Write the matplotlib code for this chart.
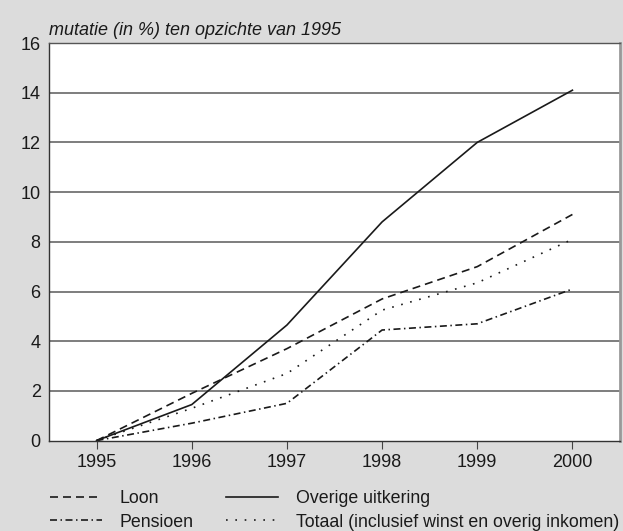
import matplotlib
matplotlib.use("Agg")
import matplotlib.pyplot as plt

years = [1995, 1996, 1997, 1998, 1999, 2000]
loon = [0, 1.9, 3.7, 5.7, 7.0, 9.1]
pensioen = [0, 0.7, 1.5, 4.45, 4.7, 6.1]
overige = [0, 1.45, 4.65, 8.8, 12.0, 14.1]
totaal = [0, 1.3, 2.7, 5.25, 6.35, 8.1]
yticks = [0, 2, 4, 6, 8, 10, 12, 14, 16]
title = "mutatie (in %) ten opzichte van 1995"

plt.rcParams['font.family'] = ['Liberation Sans', 'DejaVu Sans']
fs = 13
lfs = 12.8
bg = '#dcdcdc'
fig = plt.figure(figsize=(6.23, 5.31), dpi=100, facecolor=bg)
ax = fig.add_axes([49/623, 1-440.6/531, (620-49)/623, (440.6-43)/531])
ax.set_facecolor('white')

lc = '#1a1a1a'
lw = 1.2
l1, = ax.plot(years, loon, color=lc, lw=lw, dashes=(4.8, 3), label='Loon')
l2, = ax.plot(years, pensioen, color=lc, lw=lw, dashes=(4.2, 2.1, 0.9, 2.1), label='Pensioen')
l3, = ax.plot(years, overige, color=lc, lw=lw, label='Overige uitkering')
l4, = ax.plot(years, totaal, color=lc, lw=lw, dashes=(1.0, 4.6), label='Totaal (inclusief winst en overig inkomen)')

ax.set_xlim(1994.5, 2000.5)
ax.set_ylim(0, 16)
ax.set_yticks(yticks)
ax.set_xticks(years)
ax.set_xticklabels([str(y) for y in years])
for y in yticks[1:-1]:
    ax.axhline(y, color='#5a5a5a', lw=1.1, zorder=0)
ax.tick_params(axis='y', length=0, labelsize=fs, pad=6, colors='#1a1a1a')
ax.tick_params(axis='x', length=6, width=0.8, color='#444444', labelsize=fs, pad=4, labelcolor='#1a1a1a')
for s in ['left', 'bottom']:
    ax.spines[s].set_color('#333333')
    ax.spines[s].set_linewidth(1.0)
ax.spines['top'].set_color('#555555')
ax.spines['top'].set_linewidth(1.0)
ax.spines['right'].set_color('#999999')
ax.spines['right'].set_linewidth(2.0)

fig.text(49/623, 1-31/531, title, style='italic', fontsize=fs, ha='left', va='center', color='#1a1a1a')

fig.legend(handles=[l1, l2, l3, l4], ncol=2, loc='upper left',
           bbox_to_anchor=(43/623, 1-483/531), frameon=False, fontsize=lfs,
           handlelength=2.9, handletextpad=1.0, columnspacing=1.85,
           labelspacing=0.37, borderaxespad=0, labelcolor='#1a1a1a')

fig.savefig('out.png', dpi=100, facecolor=bg)
